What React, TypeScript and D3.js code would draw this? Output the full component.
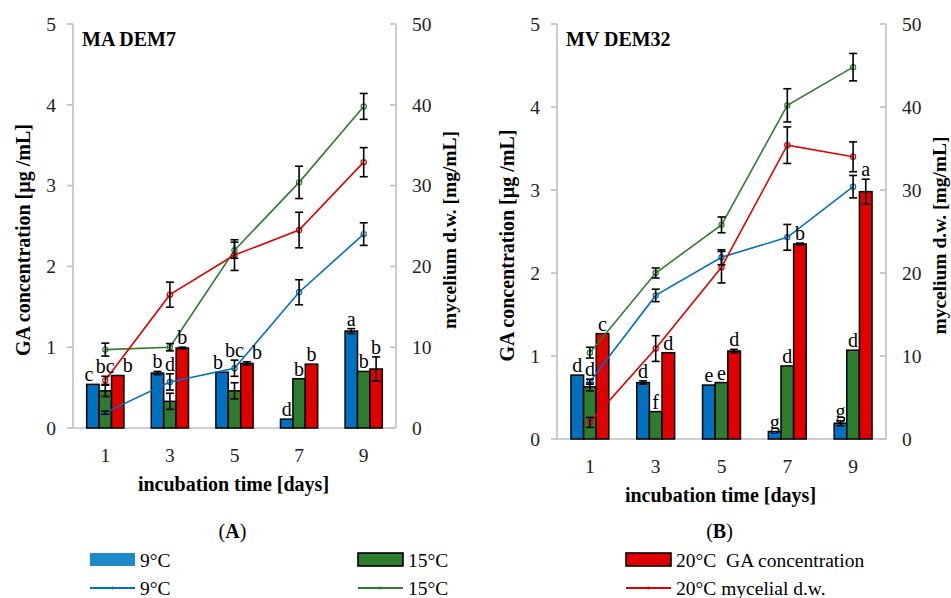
import React from "react";
import * as d3 from "d3";

// ---------- data ----------
const days = ["1", "3", "5", "7", "9"];
const seriesNames = ["9°C", "15°C", "20°C"];
const seriesColors = ["#0070C0", "#2E7D2E", "#E00000"];
const gaTicks = [0, 1, 2, 3, 4, 5];
const myTicks = [0, 10, 20, 30, 40, 50];

// Panel A – MA DEM7
const gaA9 = [0.54, 0.68, 0.69, 0.11, 1.2];
const gaA15 = [0.46, 0.33, 0.46, 0.61, 0.7];
const gaA20 = [0.65, 0.99, 0.8, 0.79, 0.73];
const gaErrA9 = [0, 0.02, 0, 0, 0.03];
const gaErrA15 = [0.07, 0.1, 0.1, 0, 0];
const gaErrA20 = [0, 0.01, 0.02, 0, 0.15];
const myA9 = [1.9, 5.7, 7.4, 16.8, 24.0];
const myA15 = [9.7, 10.0, 22.0, 30.4, 39.8];
const myA20 = [5.9, 16.5, 21.4, 24.5, 32.9];
const myErrA9 = [0.2, 1.0, 1.0, 1.55, 1.4];
const myErrA15 = [0.8, 0.45, 1.0, 2.0, 1.6];
const myErrA20 = [0.5, 1.55, 1.9, 2.2, 1.8];
const lblA9 = ["c", "b", "b", "d", "a"];
const lblA15 = ["bc", "d", "bc", "b", "b"];
const lblA20 = ["b", "b", "b", "b", "b"];

// Panel B – MV DEM32
const gaB9 = [0.77, 0.68, 0.65, 0.09, 0.19];
const gaB15 = [0.63, 0.33, 0.68, 0.88, 1.07];
const gaB20 = [1.27, 1.04, 1.06, 2.35, 2.98];
const gaErrB9 = [0, 0.02, 0, 0, 0.03];
const gaErrB15 = [0.05, 0, 0, 0, 0];
const gaErrB20 = [0, 0, 0.02, 0.01, 0.15];
const myB9 = [6.9, 17.3, 21.9, 24.3, 30.4];
const myB15 = [10.4, 20.0, 25.8, 40.2, 44.8];
const myB20 = [2.0, 10.9, 20.7, 35.4, 34.0];
const myErrB9 = [0.3, 0.75, 0.9, 1.55, 1.35];
const myErrB15 = [0.65, 0.6, 0.95, 2.0, 1.65];
const myErrB20 = [0.6, 1.55, 1.9, 2.2, 1.8];
const lblB9 = ["d", "d", "e", "g", "g"];
const lblB15 = ["d", "f", "e", "d", "d"];
const lblB20 = ["c", "d", "d", "b", "a"];

const FONT = "'Liberation Serif', 'Times New Roman', serif";
const AXIS = "#BFBFBF";

type PanelCfg = {
  title: string;
  tag: string;
  x0: number;
  x1: number;
  yTop: number;
  yBot: number;
  ga: number[][];
  gaErr: number[][];
  my: number[][];
  myErr: number[][];
  lbl: string[][];
};

const panels: PanelCfg[] = [
  {
    title: "MA DEM7",
    tag: "(A)",
    x0: 73,
    x1: 396,
    yTop: 24,
    yBot: 428,
    ga: [gaA9, gaA15, gaA20],
    gaErr: [gaErrA9, gaErrA15, gaErrA20],
    my: [myA9, myA15, myA20],
    myErr: [myErrA9, myErrA15, myErrA20],
    lbl: [lblA9, lblA15, lblA20],
  },
  {
    title: "MV DEM32",
    tag: "(B)",
    x0: 557,
    x1: 886,
    yTop: 24,
    yBot: 439,
    ga: [gaB9, gaB15, gaB20],
    gaErr: [gaErrB9, gaErrB15, gaErrB20],
    my: [myB9, myB15, myB20],
    myErr: [myErrB9, myErrB15, myErrB20],
    lbl: [lblB9, lblB15, lblB20],
  },
];

function ErrBar({ x, y1, y2, cap = 4 }: { x: number; y1: number; y2: number; cap?: number }) {
  return (
    <g stroke="#000" strokeWidth={1.6} fill="none">
      <line x1={x} x2={x} y1={y1} y2={y2} />
      <line x1={x - cap} x2={x + cap} y1={y1} y2={y1} />
      <line x1={x - cap} x2={x + cap} y1={y2} y2={y2} />
    </g>
  );
}

function Panel({ p }: { p: PanelCfg }) {
  const x = d3.scaleBand().domain(days).range([p.x0, p.x1]).padding(0);
  const bw = x.bandwidth();
  const xs = d3
    .scaleBand()
    .domain(seriesNames)
    .range([bw * 0.212, bw * 0.788])
    .padding(0);
  const yG = d3.scaleLinear().domain([0, 5]).range([p.yBot, p.yTop]);
  const yM = d3.scaleLinear().domain([0, 50]).range([p.yBot, p.yTop]);
  const cx = (d: string) => (x(d) as number) + bw / 2;
  const line = d3
    .line<number>()
    .x((_, i) => cx(days[i]))
    .y((v) => yM(v));

  const midY = (p.yTop + p.yBot) / 2;

  // labels
  const labels: React.ReactNode[] = [];
  days.forEach((d, i) => {
    const pos = seriesNames.map((s, k) => {
      const bx = (x(d) as number) + (xs(s) as number) + xs.bandwidth() / 2;
      const top = Math.min(yG(p.ga[k][i]), yG(p.ga[k][i] + p.gaErr[k][i]));
      let yy = top - 3;
      if (k === 1) {
        let moved = true;
        let guard = 0;
        while (moved && guard < 5) {
          moved = false;
          guard++;
          for (let m = 0; m < 3; m++) {
            const hi = yM(p.my[m][i] - p.myErr[m][i]);
            const lo = yM(p.my[m][i] + p.myErr[m][i]);
            if (hi > yy - 13 && lo < yy) {
              yy = lo - 3;
              moved = true;
            }
          }
        }
      }
      return { x: bx, y: yy };
    });
    const midWide = p.lbl[1][i].length > 1;
    if (midWide) {
      if (Math.abs(pos[0].y - pos[1].y) < 15) pos[0].x -= 4;
      if (Math.abs(pos[2].y - pos[1].y) < 15) pos[2].x += 10;
    }
    pos.forEach((q, k) => {
      labels.push(
        <text key={`l${d}${k}`} x={q.x} y={q.y} textAnchor="middle" fontSize={20} fontFamily={FONT} fill="#000">
          {p.lbl[k][i]}
        </text>
      );
    });
  });

  return (
    <g>
      {/* axes */}
      <g stroke={AXIS} strokeWidth={1.6} fill="none">
        <line x1={p.x0} x2={p.x0} y1={p.yTop} y2={p.yBot} />
        <line x1={p.x1} x2={p.x1} y1={p.yTop} y2={p.yBot} />
        <line x1={p.x0} x2={p.x1} y1={p.yBot} y2={p.yBot} />
        {gaTicks.map((t) => (
          <line key={`tl${t}`} x1={p.x0 - 6} x2={p.x0} y1={yG(t)} y2={yG(t)} />
        ))}
        {myTicks.map((t) => (
          <line key={`tr${t}`} x1={p.x1 - 6} x2={p.x1} y1={yM(t)} y2={yM(t)} />
        ))}
      </g>
      {gaTicks.map((t) => (
        <text key={`gl${t}`} x={p.x0 - 17} y={yG(t)} dy="0.35em" textAnchor="end" fontSize={19.5} fontFamily={FONT} fill="#222">
          {t}
        </text>
      ))}
      {myTicks.map((t) => (
        <text key={`ml${t}`} x={p.x1 + 16} y={yM(t)} dy="0.35em" textAnchor="start" fontSize={19.5} fontFamily={FONT} fill="#222">
          {t}
        </text>
      ))}
      {days.map((d) => (
        <text key={`xl${d}`} x={cx(d)} y={p.yBot + 34} textAnchor="middle" fontSize={19.5} fontFamily={FONT} fill="#222">
          {d}
        </text>
      ))}
      <text x={(p.x0 + p.x1) / 2 - 1} y={p.yBot + 63} textAnchor="middle" fontSize={20} fontWeight="bold" fontFamily={FONT}>
        incubation time [days]
      </text>
      <text
        transform={`translate(${p.x0 - 50},${midY + 14}) rotate(-90)`}
        textAnchor="middle"
        dy="0.35em"
        fontSize={20}
        fontWeight="bold"
        fontFamily={FONT}
      >
        GA concentration [µg /mL]
      </text>
      <text
        transform={`translate(${p.x1 + 53},${midY + 4}) rotate(-90)`}
        textAnchor="middle"
        dy="0.35em"
        fontSize={19.5}
        fontWeight="bold"
        fontFamily={FONT}
      >
        mycelium d.w.  [mg/mL]
      </text>
      <text x={p.x0 + 9} y={p.yTop + 22} fontSize={20} fontWeight="bold" fontFamily={FONT}>
        {p.title}
      </text>
      <text x={(p.x0 + p.x1) / 2 - 2} y={538} textAnchor="middle" fontSize={20} fontFamily={FONT}>
        (<tspan fontWeight="bold">{p.tag.slice(1, 2)}</tspan>)
      </text>

      {/* bars */}
      {days.map((d, i) =>
        seriesNames.map((s, k) => {
          const bx = (x(d) as number) + (xs(s) as number);
          const v = p.ga[k][i];
          return (
            <rect
              key={`b${d}${s}`}
              x={bx}
              y={yG(v)}
              width={xs.bandwidth()}
              height={yG(0) - yG(v)}
              fill={seriesColors[k]}
              stroke="#000"
              strokeWidth={1.5}
            />
          );
        })
      )}
      {/* bar error bars */}
      {days.map((d, i) =>
        seriesNames.map((s, k) => {
          const e = p.gaErr[k][i];
          if (!e) return null;
          const bx = (x(d) as number) + (xs(s) as number) + xs.bandwidth() / 2;
          return <ErrBar key={`be${d}${s}`} x={bx} y1={yG(p.ga[k][i] + e)} y2={yG(p.ga[k][i] - e)} />;
        })
      )}
      {/* lines */}
      {p.my.map((vals, k) => (
        <g key={`ln${k}`}>
          <path d={line(vals) || ""} fill="none" stroke={seriesColors[k]} strokeWidth={1.6} />
          {vals.map((v, i) => (
            <circle key={i} cx={cx(days[i])} cy={yM(v)} r={2.6} fill="none" stroke={seriesColors[k]} strokeWidth={1.2} />
          ))}
        </g>
      ))}
      {/* line error bars */}
      {p.my.map((vals, k) =>
        vals.map((v, i) => (
          <ErrBar key={`le${k}${i}`} x={cx(days[i])} y1={yM(v + p.myErr[k][i])} y2={yM(v - p.myErr[k][i])} />
        ))
      )}
      {labels}
    </g>
  );
}

function Legend() {
  const xs = [90, 358, 626];
  const row1 = ["9°C", "15°C", "20°C  GA concentration"];
  const row2 = ["9°C", "15°C", "20°C mycelial d.w."];
  const rectFill = ["#1F8AC9", "#2E7D2E", "#E00000"];
  return (
    <g fontFamily={FONT} fontSize={19.5}>
      {xs.map((x0, k) => (
        <g key={`lg${k}`}>
          <rect
            x={x0}
            y={553}
            width={45}
            height={13}
            fill={rectFill[k]}
            stroke={k === 0 ? "none" : "#000"}
            strokeWidth={1.6}
          />
          <text x={x0 + 50} y={567} style={{ whiteSpace: "pre" }}>
            {row1[k]}
          </text>
          <line x1={x0} x2={x0 + 45} y1={588} y2={588} stroke={seriesColors[k]} strokeWidth={2} />
          <circle cx={x0 + 22.5} cy={588} r={1.6} fill={seriesColors[k]} />
          <text x={x0 + 50} y={595}>
            {row2[k]}
          </text>
        </g>
      ))}
    </g>
  );
}

export default function App() {
  return (
    <svg
      width={951}
      height={598}
      viewBox="0 0 951 598"
      style={{ position: "absolute", left: 0, top: 0, background: "#fff" }}
    >
      <rect x={0} y={0} width={951} height={598} fill="#fff" />
      {panels.map((p, i) => (
        <Panel key={i} p={p} />
      ))}
      <Legend />
    </svg>
  );
}
